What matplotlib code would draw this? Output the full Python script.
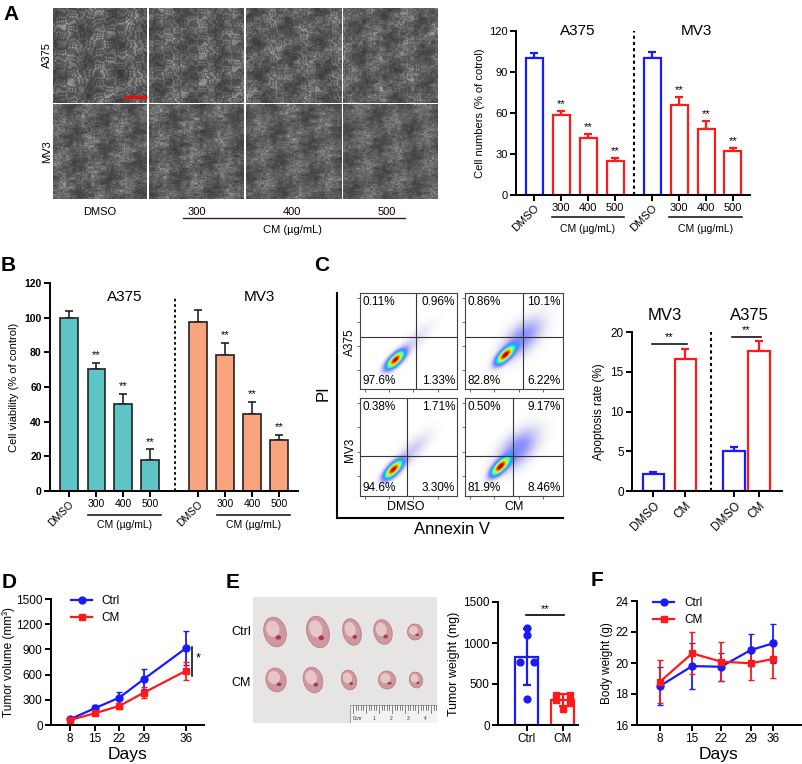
import numpy as np
import matplotlib
matplotlib.use("Agg")
import matplotlib.pyplot as plt
from matplotlib.patches import Ellipse, Rectangle
from matplotlib.lines import Line2D

plt.rcParams['font.family'] = ['Liberation Sans', 'DejaVu Sans']

# ---- data ----
a_labels = ["DMSO", "300", "400", "500"]
a_a375 = [100, 58.5, 41.5, 25]
a_a375_err = [4, 3, 3, 2]
a_mv3 = [100, 65.5, 48, 32]
a_mv3_err = [4.5, 6, 6, 2.5]

b_a375 = [100, 70.5, 50, 18]
b_a375_err = [4, 3.5, 6, 6]
b_mv3 = [97.5, 78.5, 44.5, 29.5]
b_mv3_err = [7, 7, 7, 3]

# flow quadrants: upper-left, upper-right, lower-left, lower-right
flow_a375_dmso = ["0.11%", "0.96%", "97.6%", "1.33%"]
flow_a375_cm = ["0.86%", "10.1%", "82.8%", "6.22%"]
flow_mv3_dmso = ["0.38%", "1.71%", "94.6%", "3.30%"]
flow_mv3_cm = ["0.50%", "9.17%", "81.9%", "8.46%"]

c_groups = ["MV3", "A375"]
c_labels = ["DMSO", "CM", "DMSO", "CM"]
c_vals = [2.1, 16.6, 5.0, 17.6]
c_err = [0.25, 1.3, 0.5, 1.3]

days = [8, 15, 22, 29, 36]
d_ctrl = [68, 199, 326, 548, 915]
d_ctrl_err = [20, 40, 72, 120, 200]
d_cm = [60, 139, 227, 386, 645]
d_cm_err = [15, 25, 40, 70, 110]

e_ctrl = [1188, 1103, 770, 770, 316]
e_cm = [370, 370, 300, 270, 200]

f_ctrl = [18.52, 19.8, 19.76, 20.84, 21.27]
f_ctrl_err = [1.2, 1.5, 0.9, 1.05, 1.25]
f_cm = [18.8, 20.62, 20.09, 19.98, 20.26]
f_cm_err = [1.37, 1.35, 1.25, 1.05, 1.25]

BLUE = '#1a1aff'
RED = '#ff1a1a'
TEAL = '#5fc4c6'
SALMON = '#f9a47c'

W, H = 803, 764
fig = plt.figure(figsize=(W / 100, H / 100), dpi=100)


def px_axes(l, t, r, b):
    return fig.add_axes([l / W, 1 - b / H, (r - l) / W, (b - t) / H])


def ftext(x, y, s, **kw):
    kw.setdefault('ha', 'center')
    kw.setdefault('va', 'center')
    fig.text(x / W, 1 - y / H, s, **kw)


def fline(x0, x1, y0, y1, **kw):
    fig.add_artist(Line2D([x0 / W, x1 / W], [1 - y0 / H, 1 - y1 / H],
                          transform=fig.transFigure, **kw))


def style(ax, lw=1.4, size=7.5):
    for s in ['top', 'right']:
        ax.spines[s].set_visible(False)
    for s in ['left', 'bottom']:
        ax.spines[s].set_linewidth(lw)
    ax.tick_params(width=lw, length=4, labelsize=size, pad=2)


# ---- panel letters ----
for lab, x, y in [('A', 11, 15), ('B', 8, 265), ('C', 322, 265),
                  ('D', 9, 582), ('E', 233, 582), ('F', 597, 580)]:
    ftext(x, y, lab, fontsize=15, fontweight='bold')

# ---- A: microscopy grid ----
cols_x = [(53, 147), (149, 244), (246, 341), (343, 438)]
rows_y = [(8, 103), (104, 199)]
yy, xx = np.mgrid[0:160, 0:160] / 160.0
for r, (t, b) in enumerate(rows_y):
    for c, (l, rr) in enumerate(cols_x):
        k = r * 4 + c + 1
        ax = px_axes(l, t, rr, b)
        wx = xx + 0.03 * np.sin(2 * np.pi * (5.3 + k) * yy + k)
        wy = yy + 0.03 * np.cos(2 * np.pi * (4.1 + 0.7 * k) * xx - k)
        p = np.sin(2 * np.pi * (17.3 + 1.9 * k) * wx + 2.1 * np.sin(2 * np.pi * 3.7 * wy))
        q = np.sin(2 * np.pi * (19.1 + 1.3 * k) * wy + 2.7 * np.cos(2 * np.pi * 2.9 * wx))
        z = np.sin(2 * np.pi * 2.3 * (wx + 0.6 * wy) + k) * np.cos(2 * np.pi * 1.7 * (wy - 0.4 * wx) + 2 * k)
        cells = np.clip(p * q, 0, 1) ** 2 * (0.55 + 0.45 * z)
        img = np.clip(0.36 + 0.5 * cells + 0.07 * z - 0.12 * np.clip(-p * q, 0, 1), 0, 1)
        ax.imshow(img, cmap='gray', vmin=0, vmax=1, aspect='auto', interpolation='bilinear')
        ax.axis('off')
fline(125, 145, 97, 97, color='#e01010', lw=2.5)
ftext(47, 55, 'A375', fontsize=8, rotation=90)
ftext(47, 152, 'MV3', fontsize=8, rotation=90)
for lab, x in zip(a_labels, [100, 197, 292, 387]):
    ftext(x, 212, lab, fontsize=8)
fline(183, 405, 218, 218, color='#3a1a1a', lw=1)
ftext(293, 230, 'CM (µg/mL)', fontsize=8)


def cm_underline(ax, x0, x1, yline, ytext):
    tr = ax.get_xaxis_transform()
    ax.plot([x0, x1], [yline, yline], color='#2a1a1a', lw=1.2, transform=tr, clip_on=False)
    ax.text((x0 + x1) / 2, ytext, 'CM (µg/mL)', transform=tr, ha='center', va='center',
            fontsize=7.5)


def rotate_dmso(ax):
    for t in ax.get_xticklabels():
        if t.get_text() == 'DMSO':
            t.set_rotation(45)
            t.set_ha('right')
            t.set_rotation_mode('anchor')


# ---- A: bar chart ----
ax = px_axes(516, 31, 750, 195)
xa = [0, 1, 2, 3, 4.37, 5.37, 6.37, 7.37]
vals = a_a375 + a_mv3
errs = a_a375_err + a_mv3_err
labs = a_labels * 2
for x, v, e, lab in zip(xa, vals, errs, labs):
    c = BLUE if lab == 'DMSO' else RED
    ax.bar(x, v, 0.63, color='white', edgecolor=c, linewidth=1.6, zorder=2)
    ax.errorbar(x, v, yerr=[[0], [e]], color=c, capsize=3, elinewidth=1.6, capthick=1.6, zorder=1)
    if lab != 'DMSO':
        ax.text(x, v + e + 1.5, '**', ha='center', va='bottom', fontsize=8)
ax.plot([3.7, 3.7], [0, 120], color='k', lw=1.5, ls=(0, (1.5, 1.5)))
ax.set_xlim(-0.67, 8.0)
ax.set_ylim(0, 120)
ax.set_yticks([0, 30, 60, 90, 120])
ax.set_xticks(xa)
ax.set_xticklabels(labs)
style(ax, size=8)
rotate_dmso(ax)
ax.set_ylabel('Cell numbers (% of cotrol)', fontsize=8, labelpad=3)
ax.text(1.63, 120, 'A375', ha='center', va='center', fontsize=11)
ax.text(6.0, 120, 'MV3', ha='center', va='center', fontsize=11)
cm_underline(ax, 0.65, 3.35, -0.135, -0.205)
cm_underline(ax, 5.0, 7.7, -0.135, -0.205)

# ---- B: bar chart ----
ax = px_axes(50, 283, 298, 491)
xb = [0, 1.02, 2.0, 3.0, 4.78, 5.78, 6.78, 7.78]
vals = b_a375 + b_mv3
errs = b_a375_err + b_mv3_err
for i, (x, v, e, lab) in enumerate(zip(xb, vals, errs, labs)):
    fc = TEAL if i < 4 else SALMON
    ax.bar(x, v, 0.64, color=fc, edgecolor='#222222', linewidth=1.2, zorder=2)
    ax.errorbar(x, v, yerr=[[0], [e]], color='#222222', capsize=3, elinewidth=1.2, capthick=1.2, zorder=1)
    if lab != 'DMSO':
        ax.text(x, v + e + 1.5, '**', ha='center', va='bottom', fontsize=8)
ax.plot([3.93, 3.93], [0, 112], color='k', lw=1.3, ls=(0, (1.5, 1.5)))
ax.set_xlim(-0.7, 8.48)
ax.set_ylim(0, 120)
ax.set_yticks([0, 20, 40, 60, 80, 100, 120])
ax.set_xticks(xb)
ax.set_xticklabels(labs)
style(ax, size=7.5)
for t in ax.get_yticklabels():
    t.set_fontweight('bold')
rotate_dmso(ax)
ax.set_ylabel('Cell viability (% of control)', fontsize=8, labelpad=4)
ax.text(2.07, 112, 'A375', ha='center', va='center', fontsize=11)
ax.text(7.07, 112, 'MV3', ha='center', va='center', fontsize=11)
cm_underline(ax, 0.7, 3.4, -0.115, -0.165)
cm_underline(ax, 5.5, 8.2, -0.115, -0.165)

# ---- C: flow cytometry ----
frame = px_axes(337, 293, 563, 518)
frame.set_facecolor('none')
for s in ['top', 'right']:
    frame.spines[s].set_visible(False)
for s in ['left', 'bottom']:
    frame.spines[s].set_linewidth(1.5)
frame.set_xticks([])
frame.set_yticks([])

g = np.linspace(0, 1, 220)
GX, GY = np.meshgrid(g, g)
flow_panels = [
    ((360, 293, 457, 389), flow_a375_dmso, 0.577, 0.54, (0.36, 0.30), 0.05),
    ((465, 293, 563, 389), flow_a375_cm, 0.59, 0.54, (0.41, 0.35), 0.16),
    ((360, 398, 457, 496), flow_mv3_dmso, 0.485, 0.41, (0.34, 0.27), 0.07),
    ((465, 398, 563, 496), flow_mv3_cm, 0.49, 0.41, (0.36, 0.30), 0.17),
]
for (l, t, r, b), quads, vx, hy, (cx, cy), tail in flow_panels:
    ax = px_axes(l, t, r, b)
    u = ((GX - cx) + (GY - cy)) / np.sqrt(2)
    v = ((GY - cy) - (GX - cx)) / np.sqrt(2)
    core = np.exp(-(u / 0.11) ** 2 - (v / 0.045) ** 2)
    spread = tail * np.exp(-((u - 0.25) / 0.24) ** 2 - (v / (0.05 + tail * 0.45)) ** 2)
    dens = core + spread
    rgba = plt.cm.jet(np.clip(dens, 0, 1) * 0.95)
    rgba[..., 3] = np.clip(dens * 3.0, 0, 1)
    ax.imshow(rgba, extent=[0, 1, 0, 1], origin='lower', aspect='auto', interpolation='bilinear')
    ax.axvline(vx, color='#333333', lw=0.8)
    ax.axhline(hy, color='#333333', lw=0.8)
    ax.set_xlim(0, 1)
    ax.set_ylim(0, 1)
    ax.set_xticks([0.05, 0.3, 0.55, 0.8])
    ax.set_yticks([0.2, 0.45, 0.7, 0.95])
    ax.tick_params(length=2, width=0.6, labelbottom=False, labelleft=False, colors='#555555')
    for s in ax.spines.values():
        s.set_linewidth(0.8)
        s.set_color('#444444')
    ax.text(0.03, 0.97, quads[0], transform=ax.transAxes, ha='left', va='top', fontsize=8.5)
    ax.text(0.98, 0.97, quads[1], transform=ax.transAxes, ha='right', va='top', fontsize=8.5)
    ax.text(0.03, 0.02, quads[2], transform=ax.transAxes, ha='left', va='bottom', fontsize=8.5)
    ax.text(0.98, 0.02, quads[3], transform=ax.transAxes, ha='right', va='bottom', fontsize=8.5)

ftext(350, 342, 'A375', fontsize=8.5, rotation=90)
ftext(350, 450, 'MV3', fontsize=8.5, rotation=90)
ftext(406, 507, 'DMSO', fontsize=9)
ftext(514, 507, 'CM', fontsize=9)
ftext(452, 530, 'Annexin V', fontsize=12)
ftext(323, 393, 'PI', fontsize=12, rotation=90)

# ---- C: apoptosis bars ----
ax = px_axes(632, 332, 782, 491)
xc = [0, 1, 2.53, 3.31]
for x, v, e, lab in zip(xc, c_vals, c_err, c_labels):
    c = BLUE if lab == 'DMSO' else RED
    ax.bar(x, v, 0.66, color='white', edgecolor=c, linewidth=1.6, zorder=2)
    ax.errorbar(x, v, yerr=[[0], [e]], color=c, capsize=3, elinewidth=1.6, capthick=1.6, zorder=1)
ax.plot([1.81, 1.81], [0, 20], color='k', lw=1.5, ls=(0, (1.5, 1.5)))
for (x0, x1), y in [((0, 1), 18.5), ((2.53, 3.31), 19.4)]:
    ax.plot([x0 - 0.05, x1 + 0.05], [y, y], color='k', lw=1.1, clip_on=False)
    ax.text((x0 + x1) / 2, y + 0.2, '**', ha='center', va='bottom', fontsize=8)
ax.set_xlim(-0.66, 4.03)
ax.set_ylim(0, 20)
ax.set_yticks([0, 5, 10, 15, 20])
ax.set_xticks(xc)
ax.set_xticklabels(c_labels, rotation=45, ha='right', rotation_mode='anchor')
style(ax, size=8.5)
ax.set_ylabel('Apoptosis rate (%)', fontsize=8.5, labelpad=4)
ax.text(0.375, 22.1, c_groups[0], ha='center', va='center', fontsize=12)
ax.text(3.0, 22.1, c_groups[1], ha='center', va='center', fontsize=12)


def legend_lines(ax, anchor):
    hs = [Line2D([], [], color=BLUE, marker='o', ms=5, lw=1.6),
          Line2D([], [], color=RED, marker='s', ms=5, lw=1.6)]
    ax.legend(hs, ['Ctrl', 'CM'], loc='upper left', bbox_to_anchor=anchor, frameon=False,
              fontsize=8.5, handlelength=1.8, labelspacing=0.45, borderaxespad=0)


# ---- D: tumor volume ----
ax = px_axes(51, 599, 204, 725)
dx = [0, 1, 2, 3, 4.7]
ax.errorbar(dx, d_ctrl, yerr=d_ctrl_err, color=BLUE, marker='o', ms=5, lw=1.6,
            capsize=2, elinewidth=1.3)
ax.errorbar(dx, d_cm, yerr=d_cm_err, color=RED, marker='s', ms=5, lw=1.6,
            capsize=2, elinewidth=1.3)
ax.plot([4.94, 4.94], [583, 929], color='k', lw=1.1, clip_on=False)
ax.text(5.18, 798, '*', ha='center', va='center', fontsize=9)
ax.set_xlim(-0.77, 5.43)
ax.set_ylim(0, 1500)
ax.set_yticks([0, 300, 600, 900, 1200, 1500])
ax.set_xticks(dx)
ax.set_xticklabels([str(d) for d in days])
style(ax, size=8.5)
ax.set_ylabel('Tumor volume (mm³)', fontsize=8.5, labelpad=1)
ax.set_xlabel('Days', fontsize=12.5, labelpad=1)
legend_lines(ax, (0.1, 1.07))

# ---- E: tumor photo ----
ax = px_axes(253, 597, 437, 723)
ax.set_facecolor('#e6e5e3')
ax.set_xlim(0, 184)
ax.set_ylim(126, 0)
row_y = [35, 83]
tumor_x = [[22, 65, 99, 130, 162], [23, 60, 96, 134, 163]]
tumor_w = [[22, 22, 18, 18, 15], [20, 19, 15, 17, 13]]
tumor_h = [[30, 32, 27, 25, 16], [24, 26, 20, 18, 16]]
for r in range(2):
    for x, w, h in zip(tumor_x[r], tumor_w[r], tumor_h[r]):
        ax.add_patch(Ellipse((x, row_y[r]), w, h, angle=-15, facecolor='#cf98a0',
                             edgecolor='#b88088', lw=0.6))
        ax.add_patch(Ellipse((x - w * 0.1, row_y[r] - h * 0.1), w * 0.6, h * 0.55, angle=-15,
                             facecolor='#e6c6c8', edgecolor='none'))
        ax.add_patch(Ellipse((x + w * 0.15, row_y[r] + h * 0.18), w * 0.25, h * 0.15,
                             facecolor='#a04050', edgecolor='none'))
ax.add_patch(Rectangle((97, 108), 87, 18, facecolor='#f2f2f2', edgecolor='#999999', lw=0.6))
for i, tx in enumerate(np.arange(100, 184, 2.6)):
    ax.plot([tx, tx], [108, 113 if i % 5 else 116], color='#555555', lw=0.5)
for i, lab in enumerate(['0cm', '1', '2', '3', '4']):
    ax.text(104 + i * 17, 121, lab, fontsize=3.5, ha='center', va='center', color='#333333')
ax.set_xticks([])
ax.set_yticks([])
for s in ax.spines.values():
    s.set_visible(False)
ftext(241, 632, 'Ctrl', fontsize=9)
ftext(241, 683, 'CM', fontsize=9)


def swarm(vals, tol=60, step=0.4):
    vals = np.asarray(vals, float)
    offs = np.zeros(len(vals))
    done = np.zeros(len(vals), bool)
    for i in range(len(vals)):
        if done[i]:
            continue
        grp = np.where((np.abs(vals - vals[i]) < tol) & ~done)[0]
        offs[grp] = (np.arange(len(grp)) - (len(grp) - 1) / 2) * step
        done[grp] = True
    return offs


# ---- E: tumor weight ----
ax = px_axes(498, 602, 578, 725)
for i, (pts, c, mk) in enumerate([(e_ctrl, BLUE, 'o'), (e_cm, RED, 's')]):
    m = np.mean(pts)
    sd = np.std(pts, ddof=1)
    ax.bar(i, m, 0.64, color='white', edgecolor=c, linewidth=1.6, zorder=1)
    ax.errorbar(i, m, yerr=sd, color=c, capsize=3, elinewidth=1.6, capthick=1.6, zorder=2)
    ax.scatter(i + swarm(pts), pts, color=c, marker=mk, s=24, zorder=3)
ax.plot([-0.03, 1.03], [1338, 1338], color='k', lw=1.2, clip_on=False)
ax.text(0.5, 1350, '**', ha='center', va='bottom', fontsize=8)
ax.set_xlim(-0.8, 1.42)
ax.set_ylim(0, 1500)
ax.set_yticks([0, 500, 1000, 1500])
ax.set_xticks([0, 1])
ax.set_xticklabels(['Ctrl', 'CM'])
style(ax, size=8.5)
ax.set_ylabel('Tumor weight (mg)', fontsize=9, labelpad=2)

# ---- F: body weight ----
ax = px_axes(637, 601, 801, 725)
fx = [0, 1.07, 2.03, 3.03, 3.77]
ax.errorbar(fx, f_ctrl, yerr=f_ctrl_err, color=BLUE, marker='o', ms=5, lw=1.6,
            capsize=2, elinewidth=1.3)
ax.errorbar(fx, f_cm, yerr=f_cm_err, color=RED, marker='s', ms=5, lw=1.6,
            capsize=2, elinewidth=1.3)
ax.set_xlim(-0.77, 4.7)
ax.set_ylim(16, 24)
ax.set_yticks([16, 18, 20, 22, 24])
ax.set_xticks(fx)
ax.set_xticklabels([str(d) for d in days])
style(ax, size=8.5)
ax.set_ylabel('Body weight (g)', fontsize=8.5, labelpad=2)
ax.set_xlabel('Days', fontsize=12.5, labelpad=1)
legend_lines(ax, (0.07, 1.07))

fig.savefig('out.png', dpi=100)
